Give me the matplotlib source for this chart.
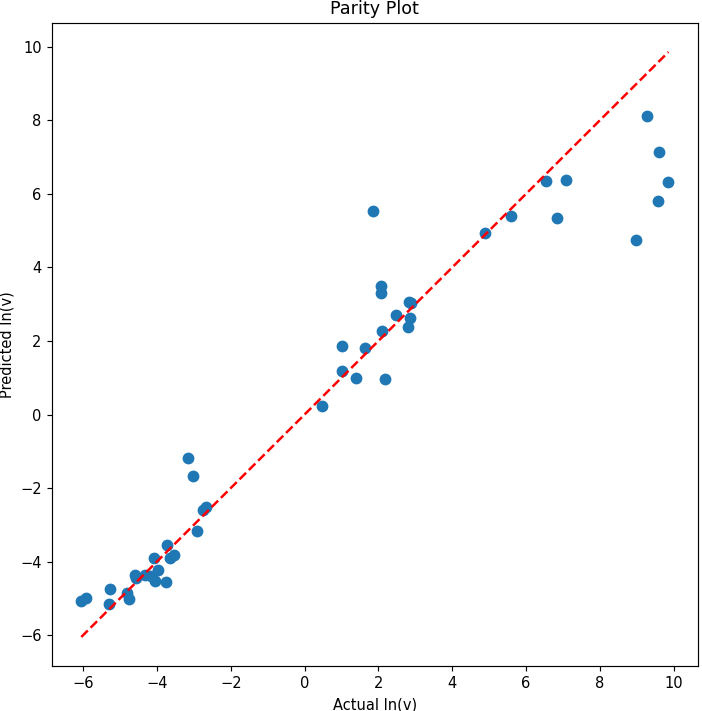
import matplotlib.pyplot as plt
import numpy as np

actual = [-3.16, -3.03, -2.74, -2.66, -2.92, -3.72, -4.08, -3.65, -3.55, -3.97,
          -4.60, -4.57, -4.33, -4.17, -4.06, -3.76, -5.27, -4.81, -4.77, -5.30,
          -6.05, -5.93,
          1.85, 2.07, 2.08, 2.84, 2.88, 2.47, 2.86, 2.81, 2.10, 1.01,
          1.64, 1.01, 1.40, 2.19, 0.46,
          9.29, 9.61, 9.86, 9.57, 8.98, 6.54, 7.09, 6.84, 5.59, 4.90]
predicted = [-1.19, -1.68, -2.60, -2.51, -3.16, -3.55, -3.91, -3.89, -3.82, -4.23,
             -4.37, -4.44, -4.36, -4.39, -4.53, -4.55, -4.74, -4.86, -5.03, -5.15,
             -5.06, -4.99,
             5.54, 3.49, 3.30, 3.06, 3.04, 2.71, 2.63, 2.38, 2.28, 1.86,
             1.81, 1.18, 0.98, 0.96, 0.23,
             8.12, 7.13, 6.33, 5.80, 4.74, 6.34, 6.38, 5.35, 5.40, 4.94]

actual = np.array(actual)
predicted = np.array(predicted)

fig, ax = plt.subplots(figsize=(702 / 105, 711 / 105), dpi=105)
ax.scatter(actual, predicted, s=50)
ax.plot([actual.min(), actual.max()], [actual.min(), actual.max()], 'r--', lw=1.7)
ax.set_xlabel('Actual ln(v)')
ax.set_ylabel('Predicted ln(v)')
ax.set_title('Parity Plot')
fig.subplots_adjust(left=0.074, right=0.994, top=0.968, bottom=0.063)
fig.savefig('out.png')
